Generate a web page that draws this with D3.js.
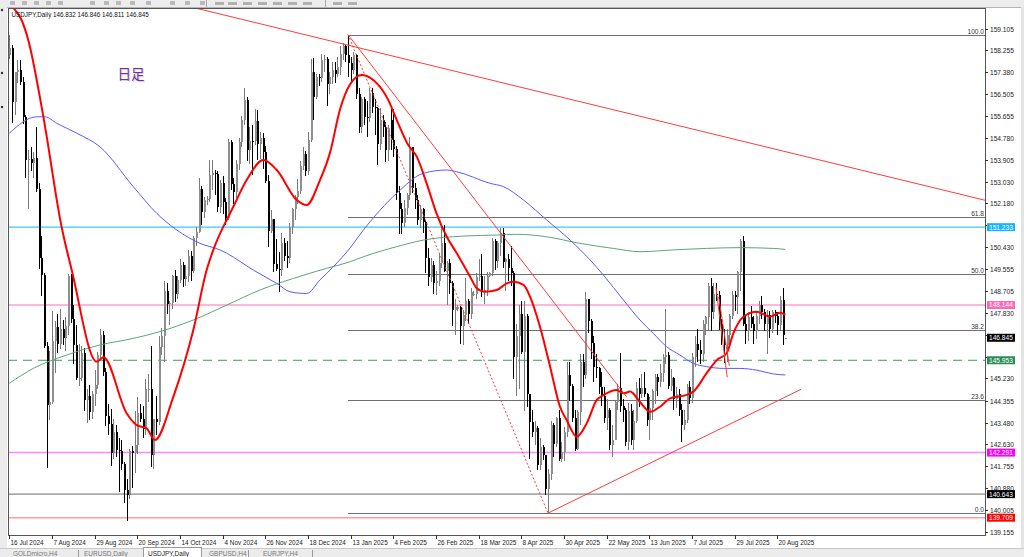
<!DOCTYPE html>
<html><head><meta charset="utf-8">
<script src="https://cdn.jsdelivr.net/npm/d3@7"></script>
<style>
html,body{margin:0;padding:0;background:#fff;overflow:hidden;}
svg{display:block;font-family:"Liberation Sans",Arial,sans-serif;}
</style></head><body>
<svg id="c" width="1024" height="557"></svg>
<script>
// ---------------- DATA ----------------
const symbolTitle = "USDJPY,Daily  146.832 146.846 146.811 146.845";
const chartNote = "日足";
const dateLabels = ["16 Jul 2024","7 Aug 2024","29 Aug 2024","20 Sep 2024","14 Oct 2024","4 Nov 2024","26 Nov 2024","18 Dec 2024","13 Jan 2025","4 Feb 2025","26 Feb 2025","18 Mar 2025","8 Apr 2025","30 Apr 2025","22 May 2025","13 Jun 2025","7 Jul 2025","29 Jul 2025","20 Aug 2025"];
const dateLabelStep = 16;
const priceTicks = [159.105,158.255,157.380,156.505,155.655,154.780,153.905,153.030,152.180,151.305,150.430,149.555,148.705,147.830,146.955,146.080,145.230,144.355,143.480,142.630,141.755,140.880,140.005,139.155];
const tabNames = ["GOLDmicro,H4","EURUSD,Daily","USDJPY,Daily","GBPUSD,H4","EURJPY,H4"];

// daily bars [open, high, low, close], index 0 = 16 Jul 2024
const ohlc = [
[158.05,158.86,157.90,158.33],[158.33,158.45,155.37,156.18],[156.18,157.40,155.70,157.37],[157.37,157.86,156.95,157.48],
[157.48,157.86,156.88,156.99],[156.99,157.20,155.33,155.62],[155.62,155.68,153.20,153.90],[153.90,154.28,151.94,153.93],
[153.93,154.40,153.45,153.77],[153.77,154.21,153.20,153.98],[153.98,155.22,152.62,152.73],[152.73,153.00,149.59,149.99],
[149.99,150.89,148.51,149.34],[149.34,149.40,146.42,146.53],[146.53,146.66,141.68,144.18],[144.18,146.33,143.60,144.29],
[144.29,147.90,144.20,146.71],[146.71,147.50,145.45,147.27],[147.27,147.80,146.25,146.60],[146.60,148.00,146.40,147.21],
[147.21,147.55,146.55,146.85],[146.85,147.67,146.33,147.30],[147.30,149.38,146.95,149.30],[149.30,149.39,147.44,147.60],
[147.60,148.15,145.81,146.57],[146.57,147.36,145.19,145.24],[145.24,146.60,144.95,145.26],[145.26,146.50,145.12,146.25],
[146.25,146.45,143.95,144.36],[144.36,144.80,143.45,144.55],[144.55,144.98,143.60,143.90],[143.90,144.73,143.62,144.60],
[144.60,145.56,144.15,144.98],[144.98,146.27,144.80,146.17],[146.17,147.20,146.00,146.94],[146.94,147.10,145.33,145.47],
[145.47,145.65,143.35,143.74],[143.74,144.20,142.97,143.41],[143.41,144.01,141.75,142.28],[142.28,143.64,142.05,143.12],
[143.12,143.40,142.10,142.39],[142.39,142.86,140.71,142.37],[142.37,142.80,141.60,141.84],[141.84,141.90,140.28,140.82],
[140.82,141.23,139.58,140.61],[140.61,142.45,140.45,142.37],[142.37,142.55,140.90,142.29],[142.29,143.95,141.50,142.60],
[142.60,144.49,142.25,143.86],[143.86,144.20,143.50,143.62],[143.62,144.15,142.88,143.22],[143.22,145.20,143.00,144.80],
[144.80,145.40,144.30,144.82],[144.82,146.50,141.70,142.18],[142.18,143.20,141.65,143.63],[143.63,144.53,142.97,143.52],
[143.52,146.90,143.40,146.48],[146.48,147.23,146.15,146.93],[146.93,149.10,145.90,148.70],[148.70,149.00,147.80,148.17],
[148.17,148.30,147.35,148.22],[148.22,149.35,148.00,149.30],[149.30,149.55,148.26,148.58],[148.58,149.30,148.40,149.14],
[149.14,149.98,149.00,149.75],[149.75,149.86,148.85,149.17],[149.17,149.75,148.90,149.28],[149.28,150.32,149.05,150.10],
[150.10,150.30,149.10,149.51],[149.51,150.87,149.40,150.82],[150.82,151.23,150.50,151.06],[151.06,153.19,151.00,152.73],
[152.73,152.85,151.30,151.83],[151.83,152.42,151.60,152.30],[152.30,152.45,152.10,152.35],[152.35,153.88,152.25,153.30],
[153.30,153.88,152.70,153.40],[153.40,153.50,152.50,153.35],[153.35,153.45,151.85,152.03],[152.03,153.10,151.80,152.97],
[152.97,153.25,151.75,152.24],[152.24,152.40,151.30,151.60],[151.60,154.71,151.50,154.62],[154.62,154.70,152.70,152.96],
[152.96,153.20,152.16,152.63],[152.63,153.90,152.40,153.72],[153.72,154.75,153.50,154.60],[154.60,155.65,154.40,155.50],
[155.50,156.75,155.30,156.27],[156.27,156.40,153.85,154.30],[154.30,155.20,153.75,154.66],[154.66,155.30,153.30,154.65],
[154.65,155.90,154.50,155.43],[155.43,155.87,153.90,154.55],[154.55,155.00,153.95,154.77],[154.77,154.95,153.55,154.23],
[154.23,154.45,152.98,153.07],[153.07,153.30,150.45,151.10],[151.10,151.90,151.00,151.55],[151.55,151.55,149.47,149.77],
[149.77,150.75,149.50,149.56],[149.56,150.25,148.65,149.55],[149.55,151.00,149.30,150.62],[150.62,150.80,149.90,150.07],
[150.07,150.68,149.60,149.99],[149.99,151.40,149.80,151.22],[151.22,152.00,150.95,151.95],[151.95,152.50,151.50,152.42],
[152.42,153.15,152.15,152.65],[152.65,153.85,152.55,153.65],[153.65,154.40,153.50,154.15],[154.15,154.25,153.25,153.48],
[153.48,155.00,153.30,154.70],[154.70,157.92,154.60,157.40],[157.40,157.93,155.50,156.40],[156.40,157.30,156.30,157.20],
[157.20,157.30,156.85,157.15],[157.15,158.10,157.00,157.85],[157.85,158.08,157.40,157.90],[157.90,158.00,156.03,156.93],
[156.93,157.40,156.50,157.20],[157.20,157.80,156.90,157.48],[157.48,157.77,156.95,157.30],[157.30,158.00,157.20,157.60],
[157.60,158.42,157.25,158.10],[158.10,158.55,157.85,158.40],[158.40,158.45,157.80,158.05],[158.05,158.87,157.20,157.75],
[157.75,158.00,157.05,157.45],[157.45,158.20,157.30,158.05],[158.05,158.10,156.30,156.50],[156.50,156.75,154.95,155.20],
[155.20,156.40,154.95,156.30],[156.30,156.40,155.30,155.60],[155.60,156.25,154.80,155.55],[155.55,156.75,155.40,156.55],
[156.55,156.75,155.75,156.00],[156.00,156.30,154.90,155.95],[155.95,156.00,153.70,154.55],[154.55,155.95,154.30,155.50],
[155.50,155.70,154.80,155.20],[155.20,155.40,153.80,154.30],[154.30,155.30,153.85,155.15],[155.50,155.90,154.30,154.70],
[154.70,155.90,154.00,154.35],[154.35,154.45,152.30,152.60],[152.60,152.85,150.95,151.95],[151.95,152.20,150.95,151.40],
[151.40,152.30,151.25,152.00],[152.00,152.60,151.70,152.50],[152.50,154.80,152.30,154.40],[154.40,154.40,152.60,152.80],
[152.80,153.00,151.95,152.30],[152.30,152.50,151.30,151.50],[151.50,152.10,151.20,151.95],[151.95,152.00,151.00,151.45],
[151.45,151.50,149.40,150.00],[150.00,150.40,148.90,149.25],[149.25,150.00,149.05,149.75],[149.75,149.90,148.60,149.00],
[149.00,149.50,148.55,149.10],[149.10,150.15,148.90,149.80],[149.80,151.25,149.60,150.60],[150.60,151.30,149.45,149.50],
[149.50,149.90,148.15,149.80],[149.80,149.95,148.60,149.00],[149.00,149.10,147.30,147.95],[147.95,148.40,146.95,148.05],
[148.00,148.15,147.90,148.05],[148.05,148.10,146.60,147.30],[147.30,147.95,146.55,147.75],[147.75,149.20,147.50,148.30],
[148.30,148.40,147.40,147.80],[147.80,148.80,147.60,148.65],[148.60,148.70,148.50,148.60],[148.60,149.40,148.40,149.25],
[149.25,149.95,149.10,149.30],[149.30,150.15,148.45,148.70],[148.70,149.30,148.20,148.75],[148.75,149.45,148.50,149.30],
[149.30,149.45,149.25,149.40],[149.40,150.80,149.30,150.70],[150.70,150.75,149.55,149.90],[149.90,150.70,149.60,150.60],
[150.60,151.20,150.10,151.00],[151.00,151.20,149.60,149.85],[149.85,150.00,148.70,149.95],[149.95,150.15,149.10,149.60],
[149.60,150.50,148.90,149.40],[149.40,149.50,145.20,146.10],[146.10,147.40,144.55,146.90],[146.90,148.15,144.80,147.80],
[147.80,148.30,146.20,146.30],[146.30,148.30,143.95,147.70],[147.70,147.80,144.10,144.60],[144.60,144.60,142.05,143.50],
[143.50,144.00,142.90,143.10],[143.10,143.55,142.60,143.25],[143.25,143.35,141.60,141.80],[141.80,142.85,141.60,142.50],
[142.50,142.60,142.00,142.20],[142.20,142.20,140.60,140.85],[140.85,141.65,139.89,141.45],[141.45,143.55,141.20,143.40],
[143.40,143.45,142.10,142.65],[142.65,143.70,142.50,143.65],[143.65,144.00,141.95,142.05],[142.05,142.70,141.90,142.30],
[142.30,143.30,141.95,143.10],[143.10,145.90,142.90,145.35],[145.35,145.90,144.35,144.95],[144.95,145.00,143.50,143.65],
[143.65,144.00,142.35,142.45],[142.45,144.00,142.40,143.90],[143.90,146.20,143.40,145.90],[145.90,146.20,144.90,145.35],
[145.35,148.65,145.20,148.40],[148.40,148.40,147.05,147.50],[147.50,147.60,146.00,146.65],[146.65,146.90,145.10,145.70],
[145.70,146.20,145.25,145.65],[145.65,145.70,144.60,144.90],[144.90,145.50,144.15,144.55],[144.55,144.90,143.45,143.65],
[143.65,144.40,143.20,144.00],[144.00,144.05,142.40,142.60],[142.60,143.40,142.10,142.80],[142.80,144.35,142.80,144.30],
[144.30,145.00,144.00,144.85],[144.85,146.25,143.90,144.15],[144.15,144.40,143.50,144.00],[144.00,144.05,142.55,142.70],
[142.70,144.25,142.40,143.95],[143.95,144.20,142.60,142.80],[142.80,144.00,142.40,143.55],[143.55,145.10,143.45,144.85],
[144.85,145.25,144.10,144.60],[144.60,145.40,144.45,144.85],[144.85,145.50,144.50,144.60],[144.60,144.65,143.35,143.60],
[143.60,144.50,142.80,144.05],[144.05,144.80,143.60,144.75],[144.75,145.40,144.20,145.30],[145.30,145.40,144.55,145.10],
[145.10,145.80,144.90,145.45],[145.45,146.20,145.10,146.10],[146.10,148.00,145.80,146.15],[146.15,146.30,144.80,144.95],
[144.95,145.60,144.75,145.25],[145.25,145.30,144.00,144.40],[144.40,144.90,144.05,144.60],[144.60,144.80,143.75,144.00],
[144.00,144.20,142.70,143.40],[143.40,144.00,143.20,143.60],[143.60,145.00,143.45,144.90],[144.90,145.15,144.20,144.45],
[144.45,146.25,144.25,146.10],[146.10,146.90,145.70,146.60],[146.60,147.20,145.90,146.35],[146.35,146.75,145.80,146.20],
[146.20,147.55,145.90,147.40],[147.40,147.70,146.95,147.65],[147.65,149.00,147.15,148.90],[148.90,149.20,147.10,147.85],
[147.85,149.00,147.60,148.60],[148.60,149.00,148.30,148.55],[148.55,148.70,147.15,147.40],[147.40,147.60,146.55,146.70],
[146.70,147.20,145.85,146.55],[146.55,147.20,145.90,146.95],[146.95,147.80,146.60,147.70],[147.70,148.70,147.60,148.55],
[148.55,148.70,147.90,148.45],[148.45,149.50,147.80,149.45],[149.45,150.75,148.70,150.70],[150.70,150.90,147.30,147.40],
[147.40,147.75,146.60,147.10],[147.10,147.85,146.70,147.65],[147.65,148.10,147.25,147.40],[147.40,147.70,146.60,147.10],
[147.10,147.85,146.80,147.70],[147.70,148.30,147.40,148.15],[148.15,148.50,147.60,147.85],[147.85,148.00,147.10,147.40],
[147.40,147.95,146.20,147.75],[147.75,147.90,146.85,147.20],[147.20,147.95,147.05,147.85],[147.85,147.95,147.45,147.70],
[147.70,147.85,146.95,147.35],[147.35,148.50,147.15,148.35],[148.35,148.80,146.55,146.95],[146.832,146.846,146.811,146.845]
];

// moving averages: [bar index, price]
const maFast = [[0,160.05],[2,159.87],[4.6,159.45],[7.1,158.66],[12.8,155.6],[19.6,151.25],[23.4,149.53],[32.8,145.9],[35.3,146.07],[44,143.85],[47.8,143.38],[51.5,143.25],[54.6,142.79],[61.5,144.5],[69,147.15],[74,149.53],[76.5,150.33],[84,152.04],[89,153.1],[95.3,153.9],[100.3,153.5],[107.8,152.31],[111.5,152.11],[116.5,153.1],[120.3,154.2],[124,155.9],[127.8,156.9],[132.1,157.27],[136.5,157.07],[142.1,156.28],[145.3,155.48],[149.6,154.49],[152.8,154.03],[156.5,152.97],[160.2,151.78],[164,150.86],[167.8,150.2],[172.8,149.27],[175.3,148.81],[178.4,148.67],[182.8,148.74],[186.5,149.0],[189,149.07],[192.8,148.94],[195.3,148.47],[199,147.28],[202.8,145.7],[206.5,144.11],[209,143.58],[212.8,142.92],[216.5,143.45],[220.3,144.38],[222.8,144.57],[227.8,144.77],[230.3,144.64],[232.8,144.71],[236.5,144.3],[240.3,143.91],[244,144.11],[247.8,144.44],[254,144.58],[256.5,144.71],[261.5,145.44],[265.3,145.96],[269,146.23],[271.5,147.02],[275.3,147.68],[280.3,147.88],[285.3,147.68],[289,147.84],[291,147.75]];
const maMid = [[0,154.96],[10.3,155.61],[13.4,155.61],[17.8,155.35],[25.3,154.96],[34,154.42],[46.5,152.84],[55.3,151.78],[62.8,151.12],[71.5,150.59],[79,150.33],[81.5,150.2],[91.5,149.53],[100.3,149.0],[105.3,148.67],[111.5,148.6],[116.5,149.14],[121.5,149.66],[127.8,150.41],[132.8,151.12],[145.3,152.58],[155.3,153.37],[164,153.5],[167.8,153.43],[180.3,152.97],[185.3,152.84],[192.8,152.31],[201.5,151.52],[210.3,150.72],[217.8,149.93],[222.8,149.33],[230.3,148.34],[236.5,147.55],[241.5,147.02],[246.5,146.49],[251.5,146.16],[256.5,145.83],[261.5,145.7],[267.8,145.63],[274,145.63],[280.3,145.56],[286.5,145.41],[291,145.37]];
const maSlow = [[0,145.04],[9,145.63],[21.5,146.16],[34,146.56],[46.5,146.82],[56.5,147.09],[69,147.55],[81.5,148.14],[94,148.74],[106.5,149.2],[119,149.6],[127.8,149.86],[132.8,150.06],[145.3,150.46],[155.3,150.72],[170.3,150.88],[182.8,150.92],[190.3,150.95],[201.5,150.85],[214,150.59],[226.5,150.39],[236.5,150.26],[249,150.33],[261.5,150.39],[274,150.42],[286.5,150.39],[291,150.35]];

const levelPrices = [151.233, 148.144, 145.953, 142.291, 140.643, 139.709];
const lastPrice = 146.845;
const fibHigh = 158.87, fibLow = 139.89, fibStartBar = 127;
const fibLevels = [0.0, 23.6, 38.2, 50.0, 61.8, 100.0];
const trendSolid = [
  [[69.6,159.93],[365.9,152.3]],
  [[127,158.87],[231.5,144.5]],
  [[202,139.89],[296.9,144.8]],
  [[265,148.85],[269.2,145.28]],
  [[266,148.47],[270,145.74]]
];
const trendDotted = [[[127,158.87],[202,139.89]]];

// ---------------- STYLES / LAYOUT ----------------
const F = {l:8, t:8, r:985, b:535};
const levelStyle = [
  {line:"#3cc8ff", w:1.3, dash:null, box:"#14b4ff"},
  {line:"#ff9ed0", w:1.4, dash:null, box:"#ff69b4"},
  {line:"#3b9a63", w:1, dash:"9,6", box:"#2e8b57"},
  {line:"#ff86ff", w:1.5, dash:null, box:"#ff00ff"},
  {line:"#8a8a8a", w:1.4, dash:null, box:"#000000"},
  {line:"#ff9c9c", w:1.6, dash:null, box:"#ff0000"}
];

const svg = d3.select("#c");
const x = d3.scaleLinear().domain([0, 291]).range([9.3, 9.3 + 291 * 2.6667]);
const y = d3.scaleLinear().domain([139.022, 159.926]).range([F.b, F.t]);
const fmt3 = d3.format(".3f");

svg.append("defs").append("clipPath").attr("id","clip")
  .append("rect").attr("x",F.l).attr("y",F.t).attr("width",F.r-F.l).attr("height",F.b-F.t);

// window chrome
svg.append("rect").attr("width",1024).attr("height",557).attr("fill","#fff");
svg.append("rect").attr("x",0).attr("y",0).attr("width",1024).attr("height",7).attr("fill","#ececec");
svg.append("line").attr("x1",0).attr("x2",1024).attr("y1",7.5).attr("y2",7.5).attr("stroke","#b4b4b4");
[10,22,34,46,58,90,104,116,130,146,170,185,200].forEach(px=>{
  svg.append("rect").attr("x",px).attr("y",1).attr("width",5).attr("height",4).attr("fill","#9a9a9a").attr("opacity",0.6);
});
[206,325].forEach(px=>svg.append("line").attr("x1",px+0.5).attr("x2",px+0.5).attr("y1",0).attr("y2",7).attr("stroke","#aaa"));
[215,228,243,258,273,288,303,333,348].forEach(px=>{
  svg.append("rect").attr("x",px).attr("y",2).attr("width",9).attr("height",3).attr("fill","#b0b0b0");
});
svg.append("rect").attr("x",0).attr("y",7).attr("width",7).attr("height",550).attr("fill","#ececec");
[10,73,107].forEach(py=>svg.append("circle").attr("cx",2).attr("cy",py).attr("r",1.2).attr("fill","#333"));
svg.append("rect").attr("x",1021).attr("y",7).attr("width",3).attr("height",550).attr("fill","#e4e4e4");

// tabs
svg.append("rect").attr("x",0).attr("y",548).attr("width",1024).attr("height",9).attr("fill","#ececec");
svg.append("line").attr("x1",0).attr("x2",1024).attr("y1",548.5).attr("y2",548.5).attr("stroke","#c8c8c8");
const tabTextX = [13, 84, 148, 209, 263];
const tabSepX = [78, 248, 312];
svg.append("rect").attr("x",143.5).attr("y",547.5).attr("width",58).attr("height",10).attr("fill","#fff").attr("stroke","#999");
tabSepX.forEach(px=>svg.append("line").attr("x1",px+0.5).attr("x2",px+0.5).attr("y1",550).attr("y2",557).attr("stroke","#999"));
tabNames.forEach((t,k)=>{
  svg.append("text").attr("x",tabTextX[k]).attr("y",556).attr("font-size",6.5)
    .attr("fill",k===2?"#222":"#777").text(t);
});

// plot area
const plot = svg.append("g").attr("clip-path","url(#clip)");

// fibonacci levels
const fibPrice = lv => fibLow + (fibHigh - fibLow) * lv / 100;
plot.selectAll(".fib").data(fibLevels).join("line")
  .attr("x1", x(fibStartBar)).attr("x2", F.r)
  .attr("y1", d=>Math.round(y(fibPrice(d)))+0.5).attr("y2", d=>Math.round(y(fibPrice(d)))+0.5)
  .attr("stroke","#6f6f6f").attr("stroke-width",1.1);

// horizontal levels
levelPrices.forEach((p,k)=>{
  const s = levelStyle[k];
  plot.append("line").attr("x1",F.l).attr("x2",F.r)
    .attr("y1",y(p)).attr("y2",y(p))
    .attr("stroke",s.line).attr("stroke-width",s.w)
    .attr("stroke-dasharray",s.dash);
});

// candles
const bars = ohlc.map((d,i)=>({i, o:d[0], h:d[1], l:d[2], c:d[3]}));
const cg = plot.append("g").attr("shape-rendering","crispEdges");
cg.selectAll(".wick").data(bars).join("line")
  .attr("x1", d=>Math.round(x(d.i))+0.5).attr("x2", d=>Math.round(x(d.i))+0.5)
  .attr("y1", d=>y(d.h)).attr("y2", d=>y(d.l))
  .attr("stroke", d=>d.c>=d.o ? "#7a7a7a" : "#000").attr("stroke-width",1);
cg.selectAll(".body").data(bars).join("rect")
  .attr("x", d=>Math.round(x(d.i))-0.5).attr("width",2)
  .attr("y", d=>y(Math.max(d.o,d.c)))
  .attr("height", d=>Math.max(1, y(Math.min(d.o,d.c)) - y(Math.max(d.o,d.c))))
  .attr("fill", d=>d.c>=d.o ? "#8e8e8e" : "#000");

// moving averages
const maLine = d3.line().x(d=>x(d[0])).y(d=>y(d[1])).curve(d3.curveMonotoneX);
plot.append("path").attr("d",maLine(maSlow)).attr("fill","none").attr("stroke","#5aa67a").attr("stroke-width",1);
plot.append("path").attr("d",maLine(maMid)).attr("fill","none").attr("stroke","#5a5aff").attr("stroke-width",1);
plot.append("path").attr("d",maLine(maFast)).attr("fill","none").attr("stroke","#ff0000").attr("stroke-width",2);

// trend lines
trendSolid.forEach(t=>{
  plot.append("line").attr("x1",x(t[0][0])).attr("y1",y(t[0][1])).attr("x2",x(t[1][0])).attr("y2",y(t[1][1]))
    .attr("stroke","#ff3b3b").attr("stroke-width",1);
});
trendDotted.forEach(t=>{
  plot.append("line").attr("x1",x(t[0][0])).attr("y1",y(t[0][1])).attr("x2",x(t[1][0])).attr("y2",y(t[1][1]))
    .attr("stroke","#ff3b3b").attr("stroke-width",1).attr("stroke-dasharray","2,2");
});

// frame
svg.append("rect").attr("x",F.l+0.5).attr("y",F.t+0.5).attr("width",F.r-F.l).attr("height",F.b-F.t)
  .attr("fill","none").attr("stroke","#555").attr("stroke-width",1);

// price axis
const boxPrices = levelPrices.concat([lastPrice]);
const boxColors = levelStyle.map(s=>s.box).concat(["#000000"]);
const axisG = svg.append("g");
priceTicks.forEach(p=>{
  const yy = Math.round(y(p))+0.5;
  axisG.append("line").attr("x1",F.r).attr("x2",F.r+3).attr("y1",yy).attr("y2",yy).attr("stroke","#333");
  const covered = boxPrices.some(bp => Math.abs(y(bp) - y(p)) < 5.5);
  if (!covered) {
    axisG.append("text").attr("x",F.r+5).attr("y",yy+2.3).attr("font-size",6.6).attr("fill","#222").text(fmt3(p));
  }
});
// level boxes
boxPrices.forEach((p,k)=>{
  const yy = y(p);
  axisG.append("rect").attr("x",F.r+2).attr("y",yy-4).attr("width",28).attr("height",8).attr("fill",boxColors[k]);
  axisG.append("text").attr("x",F.r+4).attr("y",yy+2.4).attr("font-size",6.6).attr("fill","#fff").text(fmt3(p));
});

// fib labels
fibLevels.forEach(lv=>{
  svg.append("text").attr("x",F.r-1).attr("y",Math.round(y(fibPrice(lv)))-1.5)
    .attr("text-anchor","end").attr("font-size",6.6).attr("fill","#333").text(d3.format(".1f")(lv));
});

// date axis
dateLabels.forEach((lab,k)=>{
  const xx = Math.round(x(k*dateLabelStep))+0.5;
  svg.append("line").attr("x1",xx).attr("x2",xx).attr("y1",F.b).attr("y2",F.b+4).attr("stroke","#333");
  svg.append("text").attr("x",xx+1).attr("y",F.b+9.5).attr("font-size",6.4).attr("fill","#222").text(lab);
});

// titles
svg.append("text").attr("x",11.5).attr("y",16.5).attr("font-size",6.3).attr("fill","#111").text(symbolTitle);
svg.append("text").attr("x",118.5).attr("y",79.5).attr("font-size",13.5)
  .attr("font-family","'Noto Sans CJK JP','Noto Sans CJK SC',sans-serif").attr("fill","#c9b4dd").attr("opacity",0.7).text(chartNote);
svg.append("text").attr("x",117.5).attr("y",78.5).attr("font-size",13.5)
  .attr("font-family","'Noto Sans CJK JP','Noto Sans CJK SC',sans-serif").attr("fill","#7030a0").text(chartNote);
</script>
</body></html>
